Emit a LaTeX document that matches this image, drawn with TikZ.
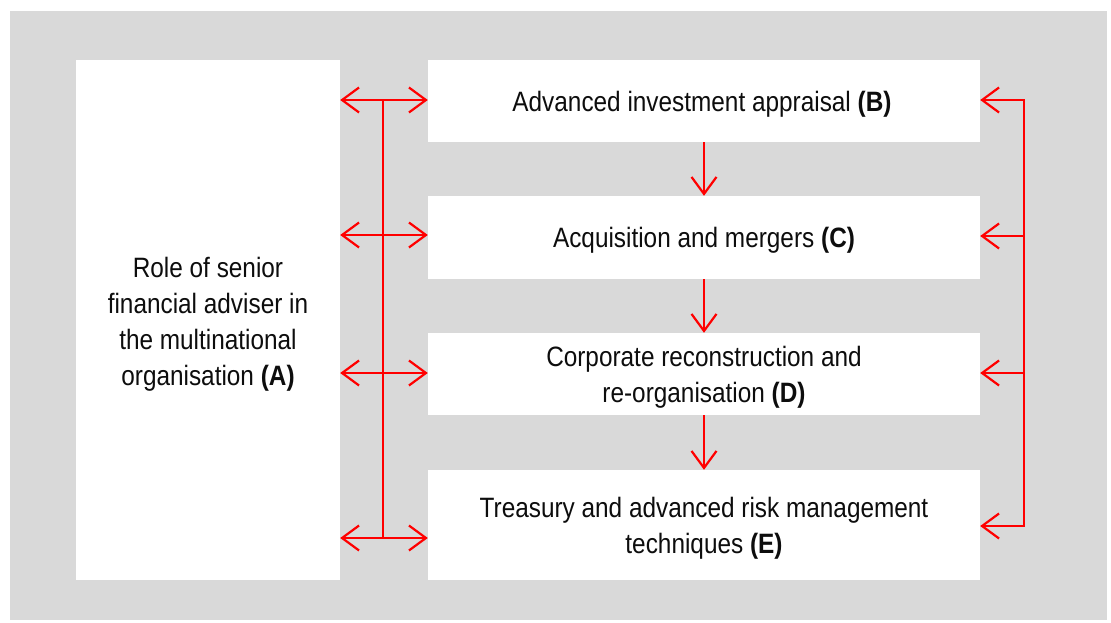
\documentclass[tikz,border=0pt]{standalone}
\usepackage{fontspec}
\setmainfont{Liberation Sans}[FakeStretch=0.87]
\usetikzlibrary{arrows.meta,calc}
\definecolor{bggray}{HTML}{D9D9D9}
\definecolor{arrred}{HTML}{FF0000}
\definecolor{txt}{HTML}{0D0D0D}
\begin{document}
\begin{tikzpicture}[x=1pt,y=1pt,
  box/.style={fill=white, inner sep=0pt},
  lbl/.style={inner sep=0pt, align=center, text=txt,
    font=\fontsize{28}{36}\selectfont},
  link/.style={draw=arrred, line width=2.2pt},
  tipboth/.style={link, {Straight Barb[length=17pt,width=25pt]}-{Straight Barb[length=17pt,width=25pt]}},
  tipend/.style={link, -{Straight Barb[length=17pt,width=25pt]}}]
\useasboundingbox (0,0) rectangle (1111,-623);
\fill[bggray] (10,-11) rectangle (1107,-620);
\node[box, minimum width=264, minimum height=520] (A) at (208,-320) {};
\node[box, minimum width=552, minimum height=82] (B) at (704,-101) {};
\node[box, minimum width=552, minimum height=83] (C) at (704,-237.5) {};
\node[box, minimum width=552, minimum height=82] (D) at (704,-374) {};
\node[box, minimum width=552, minimum height=110] (E) at (704,-525) {};
\node[lbl] (At) at ($(A.center)+(0,-4)$)
  {Role of senior\\financial adviser in\\the multinational\\organisation \textbf{(A)}};
\node[lbl] (Bt) at ($(B.center)+(-2,-3)$) {Advanced investment appraisal \textbf{(B)}};
\node[lbl] (Ct) at ($(C.center)+(0,-3)$) {Acquisition and mergers \textbf{(C)}};
\node[lbl] (Dt) at ($(D.center)+(0,-3)$) {Corporate reconstruction and\\re-organisation \textbf{(D)}};
\node[lbl] (Et) at ($(E.center)+(0,-3)$) {Treasury and advanced risk management\\techniques \textbf{(E)}};
% left connectors
\coordinate (lb) at (383,-100);
\coordinate (lc) at (383,-235);
\coordinate (ld) at (383,-373);
\coordinate (le) at (383,-538);
\draw[link] (lb) -- (le);
\draw[tipboth] (A.east |- lb) -- (B.west |- lb);
\draw[tipboth] (A.east |- lc) -- (C.west |- lc);
\draw[tipboth] (A.east |- ld) -- (D.west |- ld);
\draw[tipboth] (A.east |- le) -- (E.west |- le);
% right connectors
\coordinate (rb) at (1024,-100);
\coordinate (rc) at (1024,-236);
\coordinate (rd) at (1024,-373);
\coordinate (re) at (1024,-526);
\draw[tipboth] (B.east |- rb) -- (rb) -- (re) -- (E.east |- re);
\draw[tipend] (rc) -- (C.east |- rc);
\draw[tipend] (rd) -- (D.east |- rd);
% down arrows
\draw[tipend] (B.south) -- (C.north);
\draw[tipend] (C.south) -- (D.north);
\draw[tipend] (D.south) -- (E.north);
\end{tikzpicture}
\end{document}
